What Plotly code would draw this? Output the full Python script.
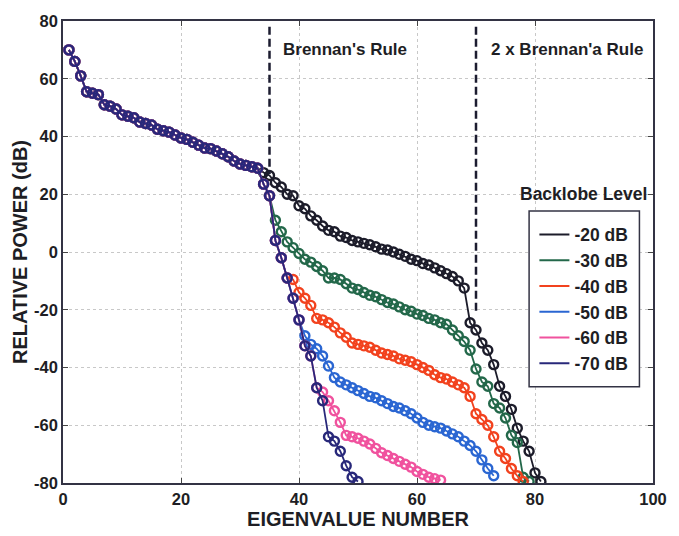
import plotly.graph_objects as go

# ---- data ----
common_x = list(range(1, 34))
common_y = [70, 66, 61, 55.5, 55, 54.5, 51, 50.5, 49.5, 47.5, 47, 46.5, 45, 44.5, 44,
            42.5, 42, 41.5, 40.5, 39.5, 39, 38, 37, 36, 35.8, 35, 34, 33, 31.5, 30.5,
            30, 29.5, 29]

tail_20 = [27.5, 26.5, 24, 22.5, 20, 19.5, 16, 15, 12.5, 11, 9, 7.5, 7, 5.5, 5, 4, 3.5, 3,
           2.5, 1.8, 1, 0.7, 0, -0.8, -1.5, -2.5, -3, -4, -4.5, -5.5, -6.5, -7.5, -8.5,
           -10, -12.5, -24.5, -27, -31.5, -34, -39, -46.5, -50, -54.5, -61, -65.5, -69,
           -76.5, -79.5]
tail_30 = [23.5, 19.5, 11, 7, 3.5, 1.5, -0.5, -2.5, -3.5, -5, -6.5, -9, -9, -9.5, -11,
           -12.5, -13, -14, -15, -15.5, -16.5, -17.5, -18, -19, -20, -20.5, -21.5, -22,
           -23, -23.5, -24.5, -25, -27, -29, -31, -34, -40.5, -45, -46.5, -52.5, -54,
           -57.5, -63.5, -66, -78, -79.5]
tail_40 = [23.5, 19.5, 4, -2, -9, -9.5, -14, -16, -18.5, -23, -23.5, -24.5, -26, -28,
           -29.5, -31.5, -32, -32.5, -33, -34, -35, -35.5, -36, -37, -37.5, -38, -39, -40,
           -41, -42.5, -43.5, -44, -45, -46, -47, -50, -56, -58, -60, -64, -69, -71.5,
           -75, -77.5, -79.5]
tail_50 = [23.5, 19.5, 4, -2, -9, -16, -23.5, -29, -32, -33.5, -36, -39.5, -43.5, -45,
           -46, -47, -48, -49, -50, -50.5, -51.5, -52.5, -53.5, -54, -55, -56, -57.5, -59,
           -60, -60.5, -61, -62, -63, -64, -65.5, -67, -69, -72, -75, -77.5]
tail_60 = [23.5, 19.5, 4, -2, -9, -16, -23.5, -32.5, -36, -47, -48.5, -51.5, -55, -59,
           -63.5, -64, -64.5, -65.5, -66.5, -68, -69.5, -70.5, -71.5, -72.5, -73.5, -74.5,
           -76, -77, -78, -78.5, -79]
tail_70 = [23.5, 19.5, 4, -2, -9, -16, -23.5, -32.5, -36, -47, -51.5, -64, -65.5, -69,
           -74, -78, -79.5]

series_names = ["-20 dB", "-30 dB", "-40 dB", "-50 dB", "-60 dB", "-70 dB"]
series_tails = [tail_20, tail_30, tail_40, tail_50, tail_60, tail_70]
series_colors = ["#1c1c2a", "#23684a", "#f2421e", "#2a66d2", "#f0529e", "#28287a"]

rule_x = [35, 70]
rule_top = [78, 78]
rule_bottom = [27, -21.5]
rule_labels = ["Brennan's Rule", "2 x Brennan'a Rule"]
rule_label_x = [37, 72.2]

x_ticks = [0, 20, 40, 60, 80, 100]
x_ticktext = ["0", "20", "40", "60", "80", "100"]
y_ticks = [-80, -60, -40, -20, 0, 20, 40, 60, 80]
y_ticktext = ["-80", "-60", "-40", "-20", "0", "20", "40", "60", "80"]

FONT = "Liberation Sans, Arial, Helvetica, sans-serif"
TXT = "#1e1e24"

fig = go.Figure()

for name, tail, col in zip(series_names, series_tails, series_colors):
    ys = common_y + tail
    xs = list(range(1, len(ys) + 1))
    fig.add_trace(go.Scatter(
        x=xs, y=ys, mode="lines+markers", showlegend=False,
        line=dict(color=col, width=1.8),
        marker=dict(symbol="circle-open", size=9, color=col, line=dict(width=2.4, color=col)),
        cliponaxis=True,
    ))

# legend entries (line only)
for name, col in zip(series_names, series_colors):
    fig.add_trace(go.Scatter(x=[None], y=[None], mode="lines", name=name,
                             line=dict(color=col, width=2)))

# rule lines
for rx, rt, rb in zip(rule_x, rule_top, rule_bottom):
    fig.add_trace(go.Scatter(x=[rx, rx], y=[rt, rb], mode="lines", showlegend=False,
                             line=dict(color="#1c1c30", width=2.5, dash="8px,4px")))

annotations = [
    dict(x=rule_label_x[0], y=70, xref="x", yref="y", text=rule_labels[0], showarrow=False,
         xanchor="left", yanchor="middle", font=dict(family=FONT, size=17, color=TXT, weight="bold")),
    dict(x=rule_label_x[1], y=70, xref="x", yref="y", text=rule_labels[1], showarrow=False,
         xanchor="left", yanchor="middle", font=dict(family=FONT, size=17, color=TXT, weight="bold")),
    dict(x=0.993, y=20, xref="paper", yref="y", text="Backlobe Level", showarrow=False,
         xanchor="right", yanchor="middle", font=dict(family=FONT, size=17.5, color=TXT, weight="bold")),
]

shapes = [
    dict(type="rect", xref="paper", yref="paper", x0=0.790, x1=0.977, y0=0.2085, y1=0.589,
         line=dict(color="#333344", width=1.5), fillcolor="white", layer="above"),
]

fig.update_layout(
    width=679, height=536,
    margin=dict(l=63, r=20, t=15, b=51),
    paper_bgcolor="white", plot_bgcolor="white",
    font=dict(family=FONT, size=16, color=TXT, weight="bold"),
    annotations=annotations,
    shapes=shapes,
    legend=dict(x=0.799, y=0.5765, xanchor="left", yanchor="top",
                borderwidth=0, bgcolor="rgba(0,0,0,0)",
                font=dict(family=FONT, size=17.5, color=TXT, weight="bold"),
                itemwidth=30, tracegroupgap=0),
    xaxis=dict(range=[0, 100], tickvals=x_ticks, ticktext=x_ticktext, ticks="inside", ticklen=5,
               showline=True, linecolor="#333344", linewidth=1.5, mirror="ticks",
               showgrid=True, gridcolor="#c8c8c8", griddash="dot", gridwidth=1,
               zeroline=False,
               title=dict(text="EIGENVALUE NUMBER", standoff=2,
                          font=dict(family=FONT, size=20, weight="bold")),
               tickfont=dict(family=FONT, size=16.5, weight="bold")),
    yaxis=dict(range=[-80, 80], tickvals=y_ticks, ticktext=y_ticktext, ticks="inside", ticklen=5,
               showline=True, linecolor="#333344", linewidth=1.5, mirror="ticks",
               showgrid=True, gridcolor="#c8c8c8", griddash="dot", gridwidth=1,
               zeroline=False,
               title=dict(text="RELATIVE POWER (dB)", standoff=1,
                          font=dict(family=FONT, size=20, weight="bold")),
               tickfont=dict(family=FONT, size=16.5, weight="bold")),
)

fig.write_html("out.html")
